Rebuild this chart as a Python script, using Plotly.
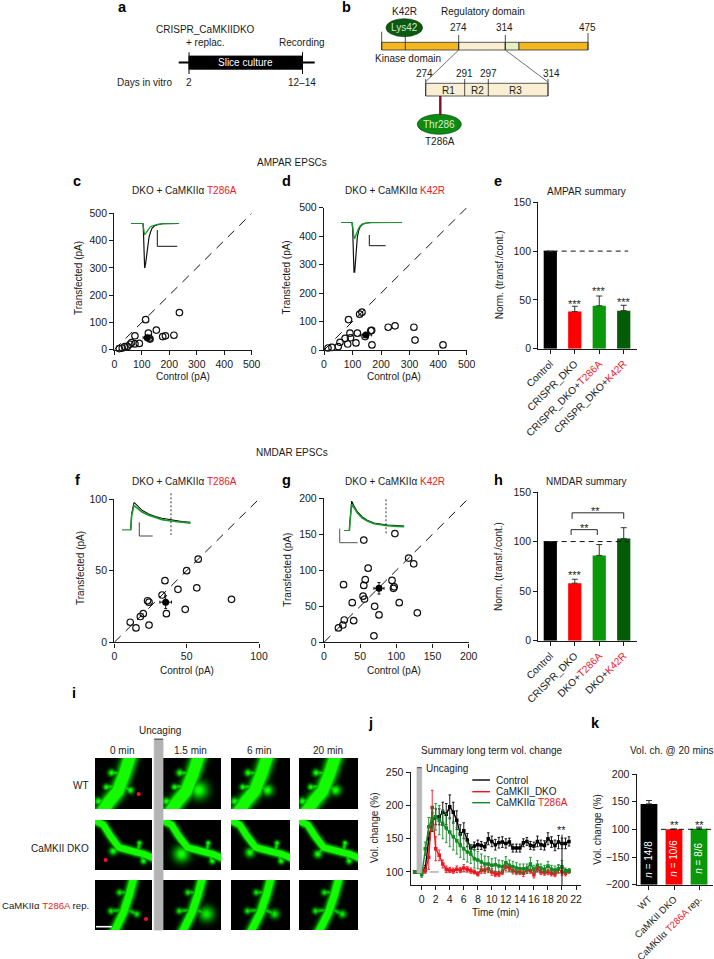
import numpy as np
import plotly.graph_objects as go

W, H = 714, 959
FONT = "Liberation Sans"
INK = "#1a1a1a"
RED = "#e8202a"

# ---------- data ----------
c_x = [237,114,153,124,186,217,176,75,130,91,75,57,63,38,29,18,48,128]
c_y = [136,110,72,61,51,53,48,51,39,23,21,20,26,11,6,4,12,42]
c_mean = ([120],[44],[15],[6])
d_x = [133,125,86,315,225,249,319,417,168,112,83,50,56,74,91,93,117,167,164,144,28,14]
d_y = [133,126,107,80,80,85,35,18,18,25,21,12,27,41,59,43,59,69,68,47,9,7]
d_mean = ([147],[53],[20],[7])
f_x = [58,50,81,57,44,35,33,23,24,20,18,11,15,24,36,49]
f_y = [58,50,30,38,37,43,33,29,28,20,18,14,10,12,20,23]
f_mean = ([35.5],[28],[4],[4.5])
g_x = [98,55,117,124,61,57,94,27,55,97,96,54,56,39,104,70,76,129,28,41,26,20,69]
g_y = [151,142,117,109,103,87,86,80,79,77,75,64,60,55,55,50,38,41,31,30,24,20,9]
g_mean = ([76],[75],[7],[8])

e_labels = ["Control","CRISPR_DKO",f"CRISPR_DKO+<span style='color:{RED}'>T286A</span>",f"CRISPR_DKO+<span style='color:{RED}'>K42R</span>"]
e_vals = [100,38,44,39]
e_errs = [0,5.5,10,5.5]
e_stars = [None,49,62,50.5]
h_labels = ["Control","CRISPR_DKO",f"DKO+<span style='color:{RED}'>T286A</span>",f"DKO+<span style='color:{RED}'>K42R</span>"]
h_vals = [100,58,86,103]
h_errs = [0,4,11,11]
bar_colors = ["#000000","#ff0000","#0a980a","#035c08"]

j_t = [i*0.5-1 for i in range(45)]
j_ctrl = [100,100,100,105,150,175,183,183,190,187,198,190,178,157,162,148,136,139,141,140,138,150,146,141,144,145,143,145,136,136,136,144,146,140,139,146,141,140,150,145,140,145,143,143,146]
j_ctrl_e = [0,0,2,5,10,14,12,12,15,16,18,15,14,14,12,10,5,6,7,6,6,9,8,8,8,8,7,6,6,6,6,6,6,6,6,8,7,7,9,8,8,10,8,8,7]
j_dko = [100,100,100,102,122,197,135,125,112,104,103,102,104,103,106,104,102,100,97,103,103,105,100,97,97,100,108,106,102,100,100,98,103,102,96,105,100,99,100,98,97,104,100,98,101]
j_dko_e = [0,0,2,4,18,26,18,8,6,5,4,4,5,4,5,4,4,3,3,5,5,6,5,4,4,4,6,5,5,4,4,5,5,4,5,5,4,4,4,4,4,6,5,4,3]
j_t286 = [100,100,96,135,168,180,183,178,172,166,160,153,147,140,135,130,127,120,118,115,112,112,110,111,109,108,114,110,108,106,105,105,105,112,104,110,106,104,109,104,103,105,108,102,102]
j_t286_e = [0,0,4,10,14,18,20,22,22,22,22,20,20,18,16,15,14,14,13,12,12,11,10,10,9,9,9,8,8,8,7,7,7,10,6,7,6,6,7,6,6,6,9,4,3]

k_labels = ["WT","CaMKII DKO",f"CaMKIIα <span style='color:{RED}'>T286A</span> rep."]
k_vals = [146,100,101]
k_errs = [6,0.5,3]
k_colors = ["#000000","#ff0000","#0a980a"]
k_n = ["14/8","10/6","8/6"]
k_tickpos = [0,50,100,150,200]
k_ticktext = ["−200","−150","100","150","200"]

# EPSC insets: time, black trace, green trace
ins_c_t = [0,36,37,39,41,44,47,50,54,58,63,70,80,95,145]
ins_c_k = [0,0,15,95,135,120,90,65,42,28,15,8,4,1,0]
ins_c_g = [0,0,10,30,35,30,26,22,15,11,8,5,3,1,0]
ins_d_t = [0,33,35,37,39,41,43,46,49,53,58,65,75,90,130,184]
ins_d_k = [0,0,20,110,151,151,115,75,45,25,13,6,2,0,-1,0]
ins_d_g = [0,0,12,34,46,48,44,36,28,18,10,5,2,1,0,0]
ins_f_t = [0,26,29,33,36,40,50,60,80,100,120,147,180,206]
ins_f_k = [0,0,50,75,84,80,70,60,49,41,36,31,26,24]
ins_f_g = [0,0,45,65,74,71,63,55,45,38,32,28,24,21]
ins_g_t = [0,16,18,23,30,40,55,70,90,110,130,160,181]
ins_g_k = [0,0,30,90,75,58,42,32,24,20,18,16,15]
ins_g_g = [0,0,28,80,70,54,39,30,22,18,16,14,13]

fig = go.Figure()
layout = dict(template="none", width=W, height=H, margin=dict(l=0,r=0,t=0,b=0,pad=0,autoexpand=False), paper_bgcolor="white", plot_bgcolor="rgba(0,0,0,0)",
              showlegend=False, font=dict(family=FONT, size=10, color=INK))
shapes, annots = [], []

# pixel overlay axes (xaxis / yaxis)
layout["xaxis"] = dict(domain=[0,1], range=[0,W], visible=False, fixedrange=True)
layout["yaxis"] = dict(domain=[0,1], range=[H,0], visible=False, fixedrange=True)

axn = [1]
def make_axes(l, r, t, b, xr, yr, visible=True, **kw):
    axn[0] += 1
    n = axn[0]
    base = dict(showline=True, linecolor=INK, linewidth=1.4, ticks="outside", ticklen=4, tickwidth=1.3, tickcolor=INK,
                showgrid=False, zeroline=False, tickfont=dict(size=10.5, color=INK), fixedrange=True, automargin=False) if visible else dict(visible=False, fixedrange=True)
    xkw = dict(base); ykw = dict(base)
    xkw.update(kw.get("x", {})); ykw.update(kw.get("y", {}))
    layout[f"xaxis{n}"] = dict(domain=[l/W, r/W], range=xr, anchor=f"y{n}", **xkw)
    layout[f"yaxis{n}"] = dict(domain=[1-b/H, 1-t/H], range=yr, anchor=f"x{n}", **ykw)
    return f"x{n}", f"y{n}"

def txt(x, y, s, size=10, color=INK, xa="center", ya="middle", angle=0, bold=False):
    if bold: s = f"<b>{s}</b>"
    annots.append(dict(x=x, y=y, xref="x", yref="y", text=s, showarrow=False, xanchor=xa, yanchor=ya,
                       textangle=angle, font=dict(size=size, color=color, family=FONT)))
def line(x0,y0,x1,y1,color=INK,w=1,dash=None):
    shapes.append(dict(type="line",x0=x0,y0=y0,x1=x1,y1=y1,xref="x",yref="y",line=dict(color=color,width=w,dash=dash)))
def rect(x0,y0,x1,y1,fill,lc=None,w=0.8):
    shapes.append(dict(type="rect",x0=x0,y0=y0,x1=x1,y1=y1,xref="x",yref="y",fillcolor=fill,line=dict(color=lc or fill,width=w)))
def ell(cx,cy,rx,ry,fill):
    shapes.append(dict(type="circle",x0=cx-rx,y0=cy-ry,x1=cx+rx,y1=cy+ry,xref="x",yref="y",fillcolor=fill,line=dict(color="#06330a",width=0.6)))

# ---------- microscopy images ----------
def render(w, h, path, r, blobs, gain=1.0):
    yy, xx = np.mgrid[0:h, 0:w]
    xx = xx + 0.5; yy = yy + 0.5
    I = np.zeros((h, w))
    def seg(pts, rad, g):
        nonlocal I
        pts = np.array(pts, float) * [w, h]
        dmin = np.full((h, w), 1e9)
        for a, b in zip(pts[:-1], pts[1:]):
            ab = b - a
            t = ((xx-a[0])*ab[0] + (yy-a[1])*ab[1]) / (ab @ ab)
            t = np.clip(t, 0, 1)
            d = np.hypot(xx-(a[0]+t*ab[0]), yy-(a[1]+t*ab[1]))
            dmin = np.minimum(dmin, d)
        I = np.maximum(I, g*np.exp(-(dmin/rad)**2))
    seg(path, r, 1.7*gain)
    for (ax, ay, bx, by, br) in blobs:
        seg([(ax, ay), (bx, by)], 2.4, 0.85*gain)
        seg([(bx, by), (bx+0.001, by+0.001)], br, 1.05*gain)
    I = np.clip(I, 0, 1)
    img = np.zeros((h, w, 3), dtype=np.uint8)
    img[..., 1] = (I*250).astype(np.uint8)
    img[..., 0] = (I**6*20).astype(np.uint8)
    return img.tolist()

cols = [(95,152),(163,221),(231,290),(299,358)]
rows = [(758,809),(820,870),(880,930)]
paths = [[(0.62,-0.05),(0.52,0.3),(0.40,0.65),(0.25,0.85),(0.13,1.05)],
         [(-0.02,0.0),(0.15,0.1),(0.27,0.32),(0.42,0.55),(0.65,0.62),(0.85,0.68),(1.02,0.76)],
         [(0.68,-0.05),(0.6,0.3),(0.5,0.65),(0.33,1.05)]]
radii = [6.8, 3.6, 4.6]
blobs = [
 [(0.5,0.3,0.29,0.29,3.6),(0.42,0.55,0.20,0.57,3.2),(0.47,0.55,0.62,0.63,r),(0.25,0.8,0.06,0.85,4)]
 for r in (3.6,9,5.6,5.2)] + [
 [(0.42,0.55,0.32,r[0],r[1]),(0.75,0.65,0.78,0.46,2.6),(0.8,0.66,0.85,0.82,3.2)]
 for r in ((0.62,4),(0.68,8),(0.65,4.6),(0.68,4))] + [
 [(0.6,0.25,0.43,0.25,3.2),(0.5,0.6,0.28,0.62,3.2),(0.54,0.58,0.72+r*0.004,0.68,r)]
 for r in (3.2,7.5,4.6,3.8)]
for ri,(t,b) in enumerate(rows):
    for ci,(l,r) in enumerate(cols):
        fig.add_trace(go.Image(z=render(r-l,b-t,paths[ri],radii[ri],blobs[ri*4+ci],0.9 if ri==2 else 1.0),
                               x0=l+0.5,y0=t+0.5,dx=1,dy=1,xaxis="x",yaxis="y",hoverinfo="skip"))
fig.add_trace(go.Scatter(x=[138.7,105.7,146],y=[794,860,919],mode="markers",xaxis="x",yaxis="y",
                         marker=dict(color="#ff1020",size=4)))
rect(154.3,739,163,930,"#b3b3b3")
line(154.3,739.2,163,739.2,"#444",1)
line(96,926.7,111.7,926.7,"white",1.6)
txt(159.7,730,"Uncaging")
for x,s in zip([121.7,190.5,259,327.5],["0 min","1.5 min","6 min","20 min"]):
    txt(x,750,s)
txt(91,785.7,"WT",xa="right")
txt(91,848,"CaMKII DKO",xa="right")
txt(91,905,f"CaMKIIα <span style='color:{RED}'>T286A</span> rep.",xa="right",size=9.6)

# ---------- schematic a ----------
line(178.7,62.5,314.7,62.5,"#000",2)
rect(189,56,302.5,69.3,"#000")
line(189,52.3,189,74,"#000",1); line(302.5,52.3,302.5,74,"#000",1)
txt(205.3,29.3,"CRISPR_CaMKIIDKO"); txt(205.3,42.3,"+ replac."); txt(302,42.3,"Recording")
txt(245,62.7,"Slice culture",color="white"); txt(144.8,82.7,"Days in vitro"); txt(189,82.7,"2"); txt(302,82.7,"12–14")

# ---------- schematic b ----------
rect(381.7,42.3,458.7,50,"#f3b81f","#333")
rect(458.7,42.3,505.3,50,"#fbefd3","#333")
rect(505.3,42.3,519,50,"#e7f0c0","#333")
rect(519,42.3,588,50,"#f3b81f","#333")
for x,t in [(381.7,31.7),(405.3,30),(458.7,35),(505.3,35),(588,33)]:
    line(x,t,x,50,"#222",0.8)
ell(404.3,27.7,18.3,9,"#0a5a12")
txt(404.3,27.7,"Lys42",color="#cfe8c8")
txt(404.3,11,"K42R"); txt(483.3,11.3,"Regulatory domain"); txt(458.7,27.7,"274"); txt(504,27.7,"314"); txt(587.7,27.7,"475")
txt(408.3,58.3,"Kinase domain")
line(458.7,50,425.7,81.7,"#333",0.7); line(505.3,50,548,82,"#333",0.7)
rect(425.7,83.3,548,96,"#fbefd3","#333")
for x in [425.7,464.7,488.3,548]:
    line(x,79,x,96,"#222",0.8)
txt(424.7,73.3,"274"); txt(464.7,73.3,"291"); txt(488.3,73.3,"297"); txt(551,73.3,"314")
txt(448.7,90.3,"R1"); txt(477.7,90.3,"R2"); txt(515.7,90.3,"R3")
line(440.3,96,440.3,116,"#8a0a2a",2.4)
ell(439.3,124.3,22,10,"#0c8a12")
txt(439.3,124.3,"Thr286",color="#d8f0d0")
txt(440,141.7,"T286A")
txt(291.5,162.7,"AMPAR EPSCs"); txt(291.5,452,"NMDAR EPSCs")

# ---------- panel letters ----------
for x,y,s in [(122,7.3,"a"),(346,7.3,"b"),(77,181,"c"),(286,181,"d"),(498,181,"e"),(77,480,"f"),(286,480,"g"),(498,480,"h"),(74,693,"i"),(370,723,"j"),(595,723,"k")]:
    txt(x,y,s,size=14.5,color="#000",bold=True)

# ---------- scatter panels ----------
def scatter_panel(box, lim, ticks, xs, ys, mean, title, title_x, title_y, xl, yl):
    ax, ay = make_axes(*box, [0,lim], [0,lim], x=dict(tickvals=ticks), y=dict(tickvals=ticks))
    fig.add_trace(go.Scatter(x=[0,lim],y=[0,lim],mode="lines",xaxis=ax,yaxis=ay,
                             line=dict(color="#111",width=1,dash="9px,7px"),hoverinfo="skip"))
    fig.add_trace(go.Scatter(x=xs,y=ys,mode="markers",xaxis=ax,yaxis=ay,cliponaxis=False,
                             marker=dict(symbol="circle-open",size=6.5,color="#111",line=dict(width=1.2,color="#111"))))
    fig.add_trace(go.Scatter(x=mean[0],y=mean[1],mode="markers",xaxis=ax,yaxis=ay,
                             error_x=dict(type="data",array=mean[2],color="#111",thickness=1,width=1.5),
                             error_y=dict(type="data",array=mean[3],color="#111",thickness=1,width=1.5),
                             marker=dict(size=7,color="#000")))
    txt(title_x,title_y,title)
    txt(xl[0],xl[1],"Control (pA)")
    txt(yl[0],yl[1],"Transfected (pA)",angle=-90)

T286 = f"DKO + CaMKIIα <span style='color:{RED}'>T286A</span>"
K42 = f"DKO + CaMKIIα <span style='color:{RED}'>K42R</span>"
t500 = [0,100,200,300,400,500]
scatter_panel((114.3,251.7,213.3,349.7),500,t500,c_x,c_y,c_mean,T286,184.3,190.7,(183.3,376.7),(78,278))
scatter_panel((324,466.7,207.7,350),500,t500,d_x,d_y,d_mean,K42,395,190.7,(394.3,376.7),(286.7,277.7))
scatter_panel((114.3,259,499,642.3),100,[0,50,100],f_x,f_y,f_mean,T286,184.3,481,(186.7,670),(80,568))
scatter_panel((324,468.7,498.3,642.3),200,[0,50,100,150,200],g_x,g_y,g_mean,K42,395,481,(394,670),(286.7,570))

# ---------- insets ----------
def inset(box, t, k, g, tmax, amax, invert, gw, kw):
    yr = [-amax,0] if invert else [0,amax]
    ax, ay = make_axes(*box, [0,tmax], yr, visible=False)
    s = -1 if invert else 1
    fig.add_trace(go.Scatter(x=t,y=[s*v for v in k],mode="lines",xaxis=ax,yaxis=ay,line=dict(color="#111",width=kw),hoverinfo="skip"))
    fig.add_trace(go.Scatter(x=t,y=[s*v for v in g],mode="lines",xaxis=ax,yaxis=ay,line=dict(color="#169a2a",width=gw),hoverinfo="skip"))

inset((131,179.3,223.3,268.3),ins_c_t,ins_c_k,ins_c_g,145,135,True,1.2,1.2)
line(157.3,230,157.3,246.3,"#111",1); line(157.3,246.3,177.3,246.3,"#111",1)
inset((341,402.3,222.3,272.7),ins_d_t,ins_d_k,ins_d_g,184,151,True,1.4,1.2)
line(369.3,235,369.3,245.7,"#111",1); line(369.3,245.7,385.7,245.7,"#111",1)
inset((122,190.7,502.3,530.3),ins_f_t,ins_f_k,ins_f_g,206,84,False,1.6,1.1)
line(171,493.3,171,535,"#333",1,"2px,2px"); line(139.3,522.3,139.3,536,"#444",1); line(139.3,536,152.7,536,"#444",1)
inset((344,404.3,501,531),ins_g_t,ins_g_k,ins_g_g,181,90,False,1.6,1.1)
line(386,499.3,386,535,"#333",1,"2px,2px"); line(339.7,528.7,339.7,542.7,"#555",1); line(339.7,542.7,357.7,542.7,"#555",1)

# ---------- bar panels ----------
def bar_panel(box, labels, vals, errs, colors, xr, yr, yt, yttext, bw, ylab, title, tx, ty, tfs=10.2):
    ykw = dict(tickvals=yt)
    if yttext: ykw["ticktext"] = yttext
    ax, ay = make_axes(*box, xr, yr,
                       x=dict(tickvals=list(range(len(vals))),ticktext=labels,tickangle=-45,tickfont=dict(size=tfs,color=INK)),
                       y=ykw)
    fig.add_trace(go.Bar(x=list(range(len(vals))),y=vals,xaxis=ax,yaxis=ay,width=bw,marker=dict(color=colors,line=dict(width=0)),
                         error_y=dict(type="data",symmetric=False,array=errs,arrayminus=[0]*len(errs),color="#333",thickness=1,width=3)))
    txt(ylab[0],ylab[1],ylab[2],angle=-90)
    txt(tx,ty,title)
    return ax, ay

def dref(ax,ay,x,y,s,size=11):
    annots.append(dict(x=x,y=y,xref=ax,yref=ay,text=s,showarrow=False,yshift=-3,font=dict(size=size,color=INK,family=FONT)))
def dline(ax,ay,xs,ys,color="#111",w=1,dash=None):
    fig.add_trace(go.Scatter(x=xs,y=ys,mode="lines",xaxis=ax,yaxis=ay,line=dict(color=color,width=w,dash=dash),hoverinfo="skip",cliponaxis=False))

ax,ay = bar_panel((538.3,636.7,202.3,348.7),e_labels,e_vals,e_errs,bar_colors,[-0.49,3.53],[0,150],[0,50,100,150],None,0.54,
                  (499.3,275,"Norm. (transf./cont.)"),"AMPAR summary",586.7,191.7)
dline(ax,ay,[-0.27,3.18],[100,100],dash="5px,4px")
for i,v in enumerate(e_stars):
    if v: dref(ax,ay,i,v,"***")

ax,ay = bar_panel((538.3,636.7,492,640.7),h_labels,h_vals,h_errs,bar_colors,[-0.49,3.53],[0,150],[0,50,100,150],None,0.54,
                  (498.3,566.7,"Norm. (transf./cont.)"),"NMDAR summary",586.7,481)
dline(ax,ay,[-0.27,3.18],[100,100],dash="5px,4px")
dref(ax,ay,1,69,"***")
dline(ax,ay,[0.85,0.85,1.92,1.92],[106.6,112,112,106.6],w=0.9)
dline(ax,ay,[0.89,0.89,3,3],[123,129,129,123],w=0.9)
dref(ax,ay,1.39,116.5,"**"); dref(ax,ay,1.84,133.5,"**")

ax,ay = bar_panel((636.7,713.3,774,884.7),k_labels,k_vals,k_errs,k_colors,[-0.49,2.57],[0,200],k_tickpos,k_ticktext,0.67,
                  (596.7,829,"Vol. change (%)"),"Vol. ch. @ 20 mins",672.3,750,tfs=9.5)
dline(ax,ay,[0.48,2.57],[100,100],dash="5px,4px")
for i,s in enumerate(k_n):
    annots.append(dict(x=i,y=47,xref=ax,yref=ay,text=f"<i>n</i> = {s}",textangle=-90,showarrow=False,font=dict(size=10,color="white",family=FONT)))
dref(ax,ay,1,112.5,"**"); dref(ax,ay,2,112.5,"**")

# ---------- panel j ----------
ax,ay = make_axes(410.7,580.7,772.3,885,[-1.57,22.67],[80.4,250],x=dict(tickvals=list(range(0,23,2))),y=dict(tickvals=[100,150,200,250]))
rect(417,767.7,421.7,873,"#b8b8b8")
line(417,767.7,421.7,767.7,"#444",1)
dline(ax,ay,[-1,21],[100,100],color="#777",w=0.9,dash="9px,6px")
for name,ys,es,col in [("Control",j_ctrl,j_ctrl_e,"#000000"),("CaMKII_DKO",j_dko,j_dko_e,"#ee1520"),("CaMKIIα T286A",j_t286,j_t286_e,"#128a24")]:
    fig.add_trace(go.Scatter(x=j_t,y=ys,name=name,mode="lines+markers",xaxis=ax,yaxis=ay,
                             line=dict(color=col,width=1.4),marker=dict(size=3.5,color=col,symbol="square"),
                             error_y=dict(type="data",array=es,color=col,thickness=0.9,width=1.3)))
dline(ax,ay,[20,20],[80.4,156],color="#111",w=1)
dref(ax,ay,20,167,"**")
txt(424,768.3,"Uncaging",xa="left")
txt(492,750,"Summary long term vol. change")
for y,c,s in [(780,"#000","Control"),(791.7,"#ee1520","CaMKII_DKO"),(802.7,"#128a24",f"CaMKIIα <span style='color:{RED}'>T286A</span>")]:
    line(472.3,y,490,y,c,1.4)
    txt(494.3,y,s,xa="left")
txt(374,828,"Vol. change (%)",angle=-90)
txt(495,912,"Time (min)")

layout["shapes"] = shapes
layout["annotations"] = annots
fig.update_layout(**layout)
fig.write_html("out.html", config={"displayModeBar":False}, post_script="document.body.style.margin='0';document.body.style.overflow='hidden';")
